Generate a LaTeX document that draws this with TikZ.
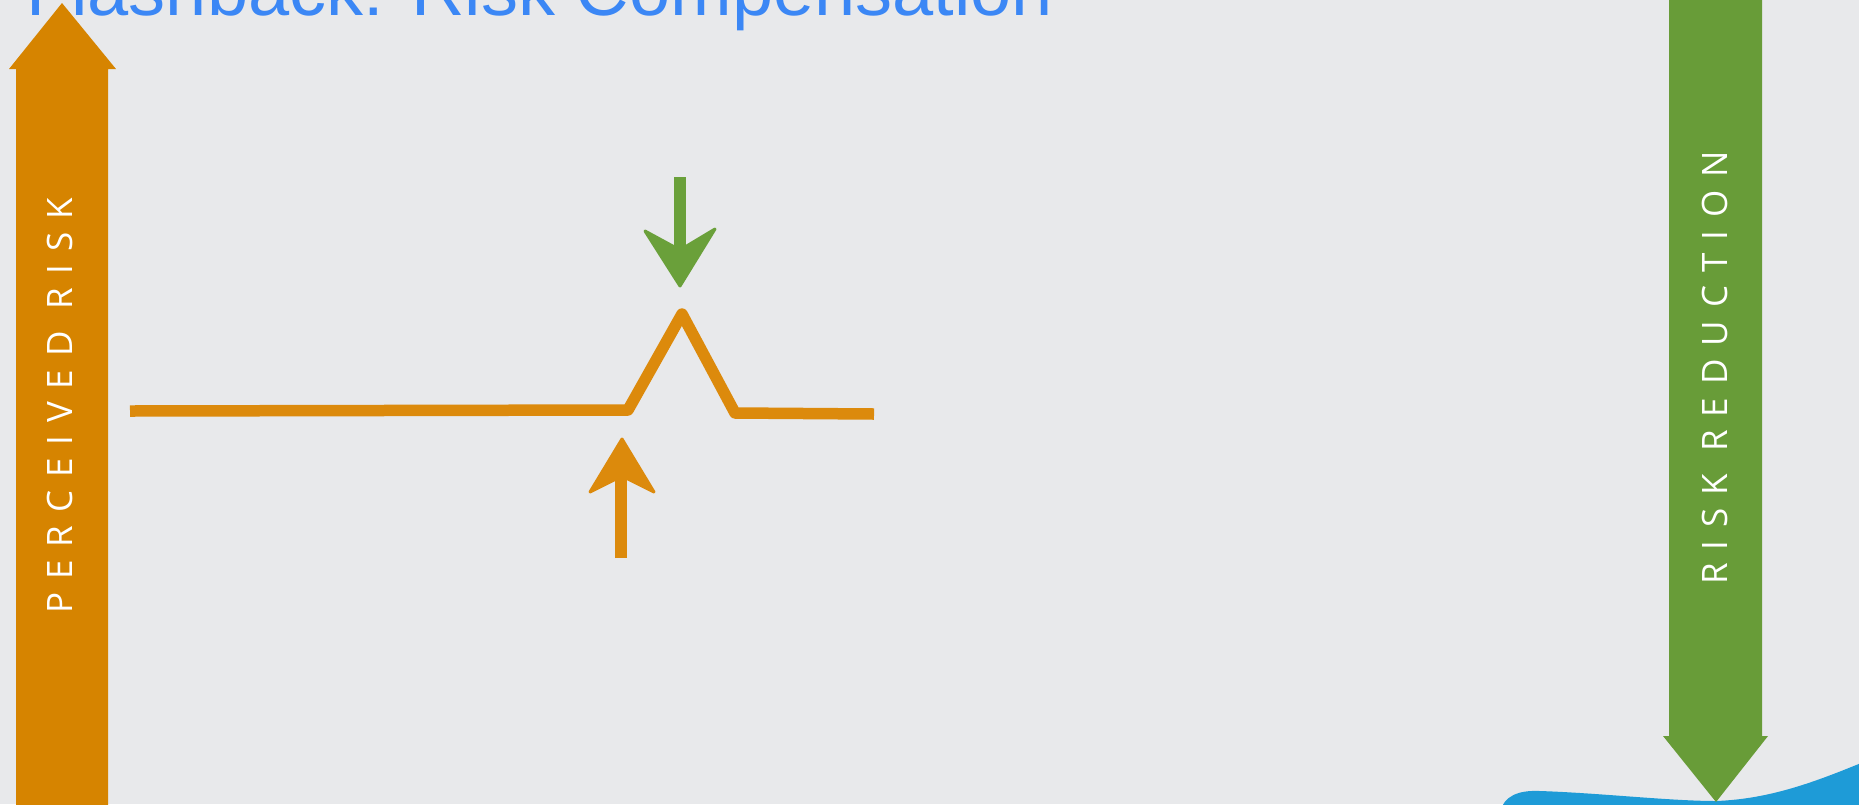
\documentclass[tikz,border=0pt]{standalone}
\usepackage{fontspec}
\setmainfont{Liberation Sans}
\newfontfamily\labelfont[LetterSpace=37]{Open Sans}
\definecolor{bgcol}{RGB}{232,233,235}
\definecolor{titleblue}{RGB}{59,135,245}
\definecolor{bigorange}{RGB}{214,132,0}
\definecolor{biggreen}{RGB}{104,156,56}
\definecolor{sketchorange}{RGB}{220,138,12}
\definecolor{sketchgreen}{RGB}{106,160,58}
\definecolor{waveblue}{RGB}{30,155,215}
\tikzset{
  bigarrowlabel/.style={rotate=90, text=white, inner sep=0pt, font=\labelfont\fontsize{35}{40}\selectfont},
  sketchline/.style={line width=11.5pt, line join=round, line cap=butt},
  sketchhead/.style={line width=3pt, line join=round},
}
\begin{document}
\begin{tikzpicture}[x=1pt,y=-1pt]
\clip (0,0) rectangle (1859,804);
\fill[bgcol] (0,0) rectangle (1859,804);
% title (cut off at the top)
\node[anchor=base west, inner sep=0pt, text=titleblue, font=\fontsize{74}{80}\selectfont] (title) at (26,15) {Flashback: Risk Compensation};
% blue wave at bottom right
\fill[waveblue] (1500,812) .. controls (1504,796) and (1518,790) .. (1540,791)
  .. controls (1600,793) and (1670,801) .. (1716,801)
  .. controls (1770,799) and (1815,782) .. (1866,761) -- (1866,812) -- cycle;
% big orange arrow (perceived risk)
\fill[bigorange] (16,812) -- (16,69) -- (9,69) -- (62,3) -- (116,69) -- (108,69) -- (108,812) -- cycle;
\node[bigarrowlabel] (perceived) at (60,406) {PERCEIVED RISK};
% big green arrow (risk reduction)
\fill[biggreen] (1669,-10) -- (1669,736) -- (1663,736) -- (1716,802) -- (1768,736) -- (1762,736) -- (1762,-10) -- cycle;
\node[bigarrowlabel] (reduction) at (1715,368) {RISK REDUCTION};
% risk curve
\coordinate (c0) at (130,411);
\coordinate (c1) at (628,410);
\coordinate (c2) at (682,314);
\coordinate (c3) at (735,413);
\coordinate (c4) at (874,414);
\draw[sketchline, draw=sketchorange] (c0) -- (c1) -- (c2) -- (c3) -- (c4);
% small green arrow (down)
\coordinate (g0) at (680,177);
\coordinate (g1) at (680,262);
\draw[sketchline, draw=sketchgreen] (g0) -- (g1);
\filldraw[sketchhead, sketchgreen] (680,286) -- (645,231) -- (680,250) -- (715,229) -- cycle;
% small orange arrow (up)
\coordinate (o0) at (621,558);
\coordinate (o1) at (621,462);
\draw[sketchline, draw=sketchorange] (o0) -- (o1);
\filldraw[sketchhead, sketchorange] (622,439) -- (590,492) -- (622,476) -- (654,492) -- cycle;
\end{tikzpicture}
\end{document}
